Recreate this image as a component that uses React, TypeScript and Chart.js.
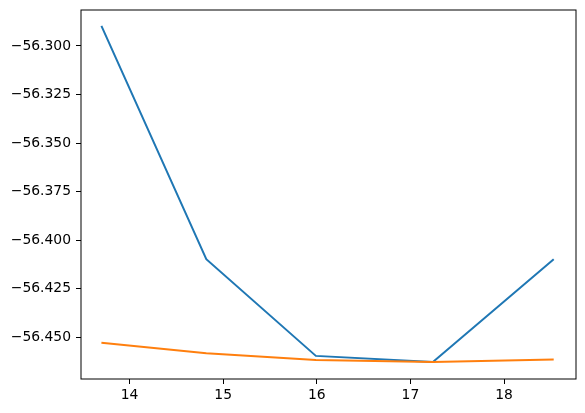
import React, { useEffect, useRef } from 'react';
import { Chart, registerables } from 'chart.js';

Chart.register(...registerables);

const xValues = [13.7, 14.82, 15.99, 17.24, 18.53];
const blueValues = [-56.2897, -56.4098, -56.4596, -56.4627, -56.4098];
const orangeValues = [-56.4528, -56.4582, -56.4617, -56.4627, -56.4615];
const xTicks = [14, 15, 16, 17, 18];
const yTicks = [-56.45, -56.425, -56.4, -56.375, -56.35, -56.325, -56.3];

const FONT = { family: '"DejaVu Sans", sans-serif', size: 13.9 };

// matplotlib style box around the plot area
const framePlugin = {
  id: 'frame',
  afterDraw(chart: Chart) {
    const { ctx, chartArea } = chart;
    ctx.save();
    ctx.strokeStyle = '#000';
    ctx.lineWidth = 1;
    ctx.strokeRect(chartArea.left, chartArea.top, chartArea.right - chartArea.left, chartArea.bottom - chartArea.top);
    ctx.restore();
  }
};

const App = () => {
  const canvasRef = useRef<HTMLCanvasElement>(null);
  const chartRef = useRef<Chart | null>(null);

  useEffect(() => {
    document.body.style.margin = '0';
    if (!canvasRef.current) return;
    const ctx = canvasRef.current.getContext('2d');
    if (!ctx) return;

    chartRef.current = new Chart(ctx, {
      type: 'line',
      data: {
        datasets: [
          {
            data: xValues.map((x, i) => ({ x, y: blueValues[i] })),
            borderColor: '#1f77b4',
            borderWidth: 2,
            pointRadius: 0,
            tension: 0,
            order: 1
          },
          {
            data: xValues.map((x, i) => ({ x, y: orangeValues[i] })),
            borderColor: '#ff7f0e',
            borderWidth: 2,
            pointRadius: 0,
            tension: 0,
            order: 0
          }
        ]
      },
      options: {
        animation: false,
        responsive: false,
        devicePixelRatio: 1,
        layout: { padding: { left: 0, top: 10, right: 9, bottom: 0 } },
        plugins: { legend: { display: false }, tooltip: { enabled: false } },
        scales: {
          x: {
            type: 'linear',
            min: 13.482,
            max: 18.768,
            afterBuildTicks: (scale: any) => {
              scale.ticks = xTicks.map(v => ({ value: v }));
            },
            afterFit: (scale: any) => {
              scale.height = 34;
              scale.paddingLeft = 0;
              scale.paddingRight = 0;
            },
            grid: { display: true, drawOnChartArea: false, tickLength: 5, color: '#000' },
            border: { display: false },
            ticks: {
              color: '#000',
              font: FONT,
              padding: 3,
              maxRotation: 0,
              autoSkip: false,
              callback: (v: any) => String(v)
            }
          },
          y: {
            type: 'linear',
            min: -56.4715,
            max: -56.2815,
            afterBuildTicks: (scale: any) => {
              scale.ticks = yTicks.map(v => ({ value: v }));
            },
            afterFit: (scale: any) => {
              scale.width = 81;
              scale.paddingTop = 0;
              scale.paddingBottom = 0;
            },
            grid: { display: true, drawOnChartArea: false, tickLength: 5, color: '#000' },
            border: { display: false },
            ticks: {
              color: '#000',
              font: FONT,
              padding: 5,
              autoSkip: false,
              callback: (v: any) => Number(v).toFixed(3).replace('-', '\u2212')
            }
          }
        }
      },
      plugins: [framePlugin]
    });

    return () => {
      if (chartRef.current) {
        chartRef.current.destroy();
        chartRef.current = null;
      }
    };
  }, []);

  return (
    <div style={{ width: 585, height: 413, background: '#fff' }}>
      <canvas ref={canvasRef} width={585} height={413} />
    </div>
  );
};

export default App;
